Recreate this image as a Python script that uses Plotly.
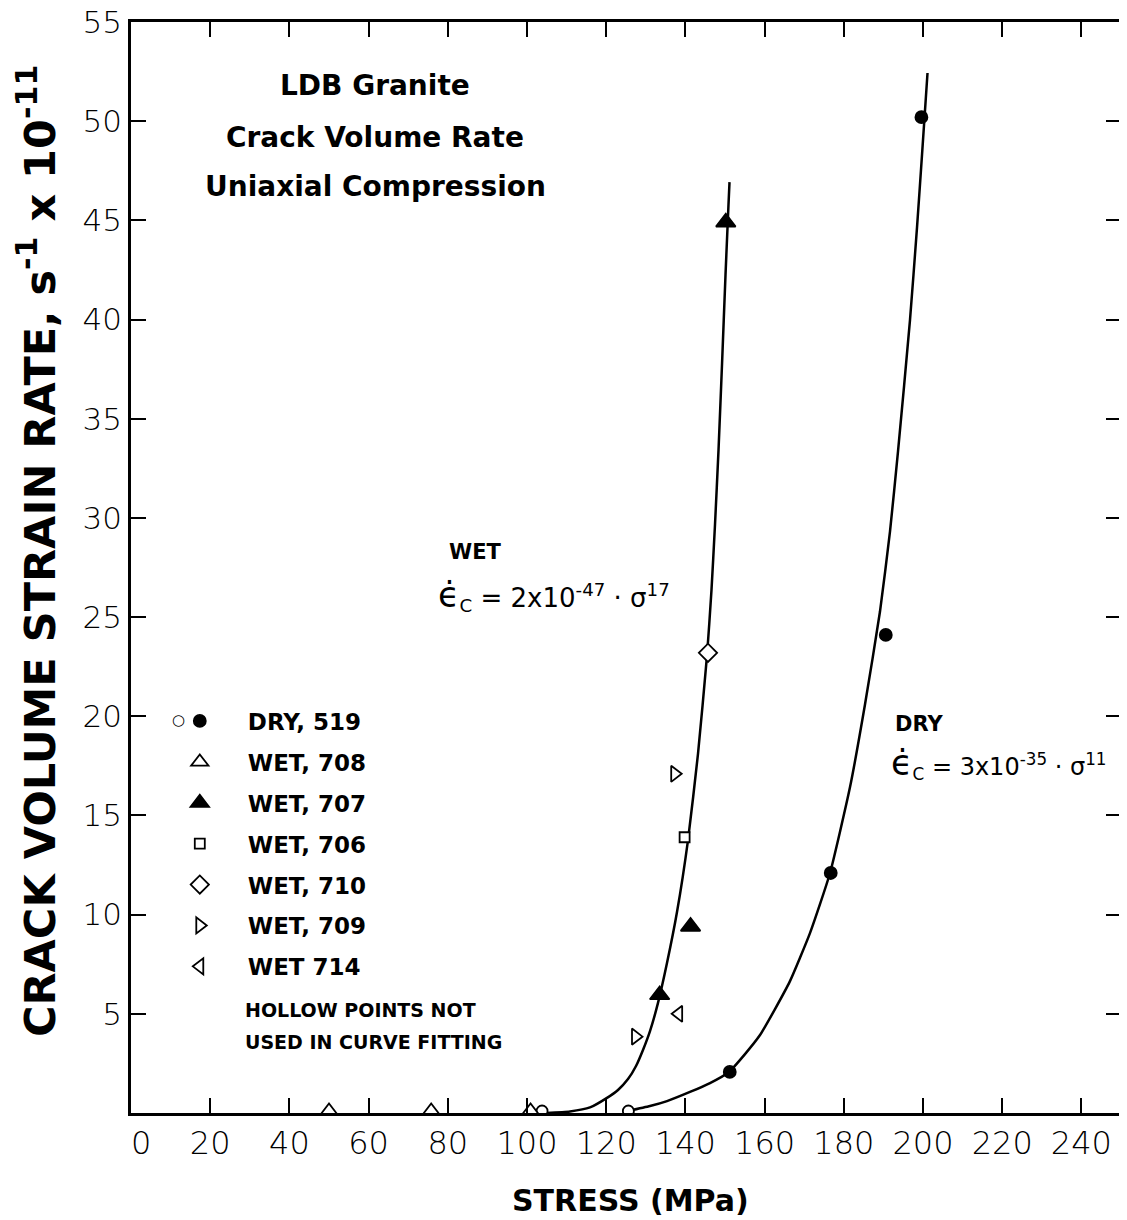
import plotly.graph_objects as go

# ---------------- data ----------------
# fitted curves
wet_curve_x = [104.8, 110.86, 115.91, 120.2, 122.98, 125.51, 127.53, 129.29, 131.06, 133.08, 135.35,
               137.88, 140.66, 143.18, 145.45, 146.59, 147.47, 148.36, 149.24, 150.13, 150.88, 151.14]
wet_curve_y = [0.0, 0.08, 0.28, 0.76, 1.16, 1.71, 2.37, 3.18, 4.13, 5.55, 7.56,
               10.13, 13.76, 18.1, 23.04, 26.37, 29.64, 33.42, 37.71, 42.25, 45.78, 46.93]
dry_curve_x = [125.5, 131.06, 135.35, 141.16, 146.21, 151.01, 155.05, 158.84, 162.63, 166.41, 171.46,
               176.52, 181.57, 185.35, 189.14, 191.67, 193.69, 196.72, 198.48, 199.75, 201.14]
dry_curve_y = [0.10, 0.35, 0.60, 1.06, 1.51, 2.07, 2.97, 3.93, 5.24, 6.65, 9.07,
               12.10, 16.43, 20.59, 25.28, 29.32, 33.35, 39.98, 44.62, 48.30, 52.43]

# measured points
dry_fill_x = [151.2, 176.7, 190.6, 199.6]
dry_fill_y = [2.07, 12.1, 24.1, 50.2]
dry_hollow_x = [103.8, 125.6]
dry_hollow_y = [0.1, 0.1]
wet708_x = [50.0, 75.8, 100.9]
wet708_y = [0.1, 0.1, 0.1]
wet707_x = [133.5, 141.3, 150.2]
wet707_y = [5.95, 9.4, 44.9]
wet706_x = [139.8]
wet706_y = [13.9]
wet710_x = [145.7]
wet710_y = [23.2]
wet709_x = [137.3, 127.4]
wet709_y = [17.1, 3.85]
wet714_x = [138.3]
wet714_y = [5.0]

x_ticks = [0, 20, 40, 60, 80, 100, 120, 140, 160, 180, 200, 220, 240]
x_ticktext = ["\u00a0\u00a00", "20", "40", "60", "80", "100", "120", "140", "160", "180", "200", "220", "240"]
y_ticks = [5, 10, 15, 20, 25, 30, 35, 40, 45, 50, 55]
y_ticktext = ["5", "10", "15", "20", "25", "30", "35", "40", "45", "50", "55"]

# ---------------- styles ----------------
FONT = "DejaVu Sans"
BLK = "black"
LW = 1.8

fig = go.Figure()

for cx, cy in ((wet_curve_x, wet_curve_y), (dry_curve_x, dry_curve_y)):
    fig.add_trace(go.Scatter(x=cx, y=cy, mode="lines",
                             line=dict(color=BLK, width=2.5, shape="spline", smoothing=0.5),
                             showlegend=False, hoverinfo="skip"))

def pts(x, y, name, symbol, size, filled, legend=True, group=None):
    fig.add_trace(go.Scatter(
        x=x, y=y, mode="markers", name=name, showlegend=legend,
        legendgroup=group or name,
        marker=dict(symbol=symbol, size=size,
                    color=BLK if filled else "white",
                    line=dict(color=BLK, width=LW)),
    ))

pts(dry_hollow_x, dry_hollow_y, "DRY hollow", "circle", 11, False, legend=False, group="dry")
pts(dry_fill_x, dry_fill_y, "DRY, 519", "circle", 12, True, group="dry")
pts(wet708_x, wet708_y, "WET, 708", "triangle-up", 15, False)
pts(wet707_x, wet707_y, "WET, 707", "triangle-up", 17, True)
pts(wet706_x, wet706_y, "WET, 706", "square", 10, False)
pts(wet710_x, wet710_y, "WET, 710", "diamond", 14, False)
pts(wet709_x, wet709_y, "WET, 709", "triangle-right", 14, False)
pts(wet714_x, wet714_y, "WET 714", "triangle-left", 14, False)

ann = []
def txt(x, y, s, size, bold=False, xanchor="left", ref="x", angle=0):
    ann.append(dict(x=x, y=y, xref="x" if ref == "x" else "paper",
                    yref="y" if ref == "x" else "paper",
                    text=s, showarrow=False, textangle=angle,
                    xanchor=xanchor, yanchor="middle",
                    font=dict(family=FONT, size=size, color=BLK,
                              weight="bold" if bold else "normal")))

EPS = '<span style="font-size:35px">ϵ̇</span>'

txt(61.7, 51.8, "LDB Granite", 28, True, "center")
txt(61.7, 49.2, "Crack Volume Rate", 28, True, "center")
txt(61.7, 46.7, "Uniaxial Compression", 28, True, "center")

txt(79.9, 28.3, "WET", 21, True)
txt(76.9, 26.1, EPS + "<sub>C</sub> = 2x10<sup>-47</sup> · σ<sup>17</sup>", 26)
txt(192.4, 19.6, "DRY", 21, True)
txt(191.3, 17.6, EPS + "<sub>C</sub> = 3x10<sup>-35</sup> · σ<sup>11</sup>", 24)

txt(28.3, 5.2, "HOLLOW POINTS NOT", 19, True)
txt(28.3, 3.6, "USED IN CURVE FITTING", 19, True)
# hollow-circle key for the DRY legend row
txt(12.0, 19.8, "○", 15, False, "center")

# axis titles
txt(0.505, -0.08, "STRESS (MPa)", 30, True, "center", ref="paper")
txt(-0.095, 0.515, "CRACK VOLUME STRAIN RATE, s<sup>-1</sup> x 10<sup>-11</sup>", 43, True,
    "center", ref="paper", angle=-90)

# the page body has an 8px default margin: margins are set so that the plot
# area lands where it is in the reference once that offset is added
fig.update_layout(
    width=1127, height=1220,
    margin=dict(l=123, r=14, t=14, b=115),
    paper_bgcolor="white", plot_bgcolor="white",
    font=dict(family=FONT, color=BLK),
    annotations=ann,
    showlegend=True,
    legend=dict(x=0.021, y=0.379, xanchor="left", yanchor="top",
                bgcolor="rgba(0,0,0,0)", borderwidth=0,
                font=dict(family=FONT, size=23, color=BLK, weight="bold"),
                itemwidth=86, traceorder="grouped", tracegroupgap=8,
                itemclick=False),
    xaxis=dict(range=[0, 250], tickvals=x_ticks, ticktext=x_ticktext,
               ticks="inside", ticklen=15, tickwidth=2, tickcolor=BLK,
               showline=True, linewidth=2.5, linecolor=BLK, mirror="ticks",
               showgrid=False, zeroline=False, automargin=False,
               ticklabeloverflow="allow",
               tickfont=dict(family=FONT, size=32, color=BLK, weight=200)),
    yaxis=dict(range=[0, 55], tickvals=y_ticks, ticktext=y_ticktext,
               ticks="inside", ticklen=15, tickwidth=2, tickcolor=BLK,
               showline=True, linewidth=2.5, linecolor=BLK, mirror="ticks",
               showgrid=False, zeroline=False, automargin=False,
               ticklabeloverflow="allow",
               tickfont=dict(family=FONT, size=31, color=BLK, weight=200)),
)

fig.write_html("out.html")
